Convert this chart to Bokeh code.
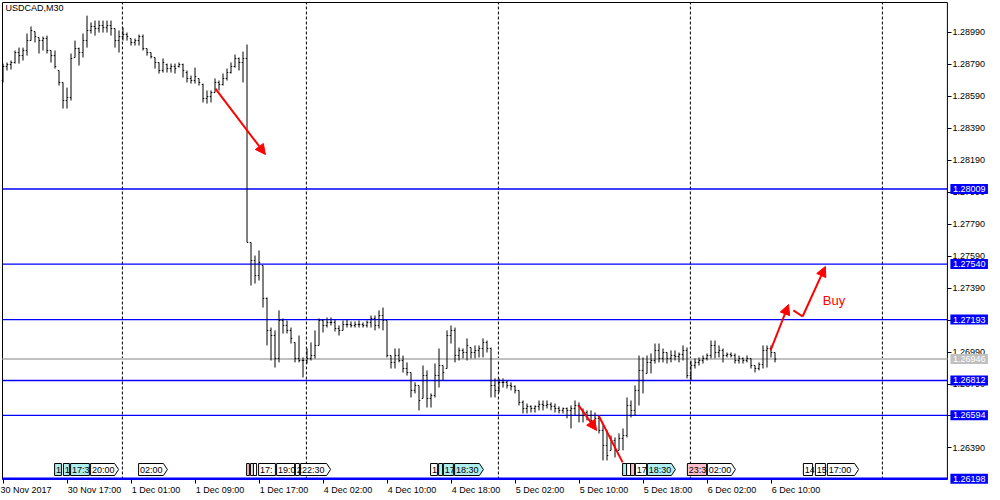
from bokeh.plotting import figure
from bokeh.models import (Range1d, FixedTicker, PrintfTickFormatter, Label,
                          Arrow, NormalHead, ColumnDataSource, AllLabels)
from bokeh.core.properties import value
from bokeh.embed import file_html
from bokeh.resources import INLINE

FONT = "Liberation Sans"
FS = 9  # px

symbol = "USDCAD,M30"

opens = [1.28687, 1.28775, 1.28787, 1.28800, 1.28862, 1.28843, 1.28875, 1.28937, 1.28993, 1.28956,
         1.28937, 1.28950, 1.28875, 1.28843, 1.28750, 1.28675, 1.28562, 1.28581, 1.28831, 1.28887,
         1.28862, 1.28937, 1.29000, 1.29025, 1.29012, 1.29031, 1.29018, 1.29031, 1.29012, 1.28937,
         1.28962, 1.28975, 1.28950, 1.28925, 1.28937, 1.28962, 1.28887, 1.28862, 1.28831, 1.28800,
         1.28750, 1.28787, 1.28762, 1.28775, 1.28775, 1.28787, 1.28737, 1.28700, 1.28687, 1.28700,
         1.28662, 1.28575, 1.28587, 1.28612, 1.28675, 1.28662, 1.28700, 1.28737, 1.28775, 1.28825,
         1.28800, 1.28825,
         1.27675, 1.27562, 1.27468, 1.27531, 1.27325, 1.27125, 1.27093, 1.26950, 1.27187, 1.27156,
         1.27125, 1.27050, 1.26950, 1.26937, 1.26937, 1.26950, 1.26968, 1.27031, 1.27187, 1.27156,
         1.27175, 1.27175, 1.27137, 1.27125, 1.27162, 1.27162, 1.27156, 1.27162, 1.27162, 1.27156,
         1.27175, 1.27200, 1.27156, 1.27218, 1.27187, 1.26968, 1.26925, 1.26968, 1.26937, 1.26887,
         1.26862, 1.26750, 1.26781, 1.26700, 1.26843, 1.26700, 1.26718, 1.26843, 1.26906, 1.26887,
         1.27093, 1.27125, 1.26968, 1.27000, 1.26987, 1.27018, 1.26987, 1.27000, 1.27012, 1.27050,
         1.27012, 1.26781, 1.26750,
         1.26800, 1.26800, 1.26781, 1.26775, 1.26750, 1.26675, 1.26637, 1.26650, 1.26637, 1.26650,
         1.26662, 1.26656, 1.26662, 1.26650, 1.26637, 1.26625, 1.26637, 1.26625, 1.26637, 1.26656,
         1.26593, 1.26612, 1.26593, 1.26562, 1.26575, 1.26500, 1.26406, 1.26375, 1.26437, 1.26375,
         1.26450, 1.26468, 1.26656, 1.26625, 1.26750, 1.26875, 1.26856, 1.26925, 1.26937, 1.27000,
         1.26950, 1.26987, 1.26950, 1.26968, 1.26962, 1.26975, 1.27000, 1.26843, 1.26906, 1.26925,
         1.26937, 1.26950, 1.26968, 1.27031, 1.26987, 1.27000, 1.26968, 1.26975, 1.26968, 1.26937,
         1.26950, 1.26937, 1.26950, 1.26906, 1.26887, 1.26912, 1.27000, 1.27012, 1.26987]

highs = [1.28793, 1.28800, 1.28812, 1.28875, 1.28893, 1.28893, 1.28981, 1.29025, 1.28993, 1.28956,
         1.28962, 1.28968, 1.28875, 1.28875, 1.28750, 1.28675, 1.28643, 1.28856, 1.28937, 1.28893,
         1.28981, 1.29093, 1.29050, 1.29062, 1.29062, 1.29062, 1.29062, 1.29062, 1.29012, 1.29000,
         1.29018, 1.28987, 1.28950, 1.28950, 1.28975, 1.28975, 1.28887, 1.28862, 1.28831, 1.28800,
         1.28825, 1.28793, 1.28793, 1.28793, 1.28800, 1.28793, 1.28750, 1.28718, 1.28768, 1.28700,
         1.28668, 1.28625, 1.28625, 1.28700, 1.28687, 1.28731, 1.28762, 1.28800, 1.28850, 1.28831,
         1.28868, 1.28912,
         1.27675, 1.27593, 1.27625, 1.27531, 1.27331, 1.27143, 1.27125, 1.27250, 1.27200, 1.27187,
         1.27143, 1.27050, 1.27093, 1.26956, 1.27012, 1.27050, 1.27125, 1.27200, 1.27193, 1.27206,
         1.27206, 1.27193, 1.27156, 1.27187, 1.27193, 1.27181, 1.27181, 1.27187, 1.27175, 1.27187,
         1.27218, 1.27218, 1.27250, 1.27268, 1.27187, 1.26968, 1.27012, 1.27012, 1.26968, 1.26925,
         1.26862, 1.26800, 1.26781, 1.26906, 1.26875, 1.26731, 1.26918, 1.27012, 1.26906, 1.27125,
         1.27156, 1.27143, 1.27018, 1.27012, 1.27075, 1.27018, 1.27031, 1.27031, 1.27075, 1.27062,
         1.27018, 1.26825, 1.26825,
         1.26825, 1.26812, 1.26800, 1.26781, 1.26750, 1.26687, 1.26668, 1.26656, 1.26656, 1.26687,
         1.26687, 1.26687, 1.26675, 1.26668, 1.26650, 1.26643, 1.26643, 1.26656, 1.26687, 1.26675,
         1.26637, 1.26625, 1.26625, 1.26612, 1.26593, 1.26531, 1.26500, 1.26468, 1.26456, 1.26481,
         1.26512, 1.26706, 1.26687, 1.26781, 1.26968, 1.26956, 1.26968, 1.26981, 1.27043, 1.27043,
         1.27012, 1.26987, 1.27000, 1.27000, 1.26987, 1.27031, 1.27018, 1.26937, 1.26950, 1.26956,
         1.26968, 1.26981, 1.27062, 1.27062, 1.27031, 1.27012, 1.26987, 1.26987, 1.26981, 1.26968,
         1.26956, 1.26968, 1.26950, 1.26906, 1.26925, 1.27031, 1.27031, 1.27031, 1.26987]

lows = [1.28675, 1.28750, 1.28756, 1.28793, 1.28793, 1.28812, 1.28843, 1.28937, 1.28925, 1.28856,
        1.28875, 1.28856, 1.28800, 1.28762, 1.28656, 1.28512, 1.28512, 1.28562, 1.28831, 1.28781,
        1.28831, 1.28893, 1.28981, 1.28968, 1.28987, 1.28987, 1.28987, 1.28968, 1.28893, 1.28862,
        1.28937, 1.28937, 1.28906, 1.28906, 1.28906, 1.28875, 1.28843, 1.28825, 1.28762, 1.28731,
        1.28737, 1.28737, 1.28737, 1.28731, 1.28768, 1.28706, 1.28675, 1.28668, 1.28668, 1.28656,
        1.28550, 1.28543, 1.28550, 1.28612, 1.28625, 1.28656, 1.28687, 1.28731, 1.28768, 1.28750,
        1.28675, 1.27675,
        1.27406, 1.27418, 1.27437, 1.27268, 1.27031, 1.26937, 1.26893, 1.26925, 1.27106, 1.27106,
        1.27043, 1.26925, 1.26925, 1.26831, 1.26918, 1.26937, 1.26950, 1.27031, 1.27112, 1.27143,
        1.27156, 1.27118, 1.27093, 1.27125, 1.27143, 1.27143, 1.27143, 1.27143, 1.27143, 1.27143,
        1.27143, 1.27125, 1.27137, 1.27125, 1.26956, 1.26887, 1.26887, 1.26925, 1.26862, 1.26843,
        1.26706, 1.26731, 1.26625, 1.26700, 1.26643, 1.26643, 1.26706, 1.26768, 1.26812, 1.26887,
        1.27043, 1.26925, 1.26937, 1.26950, 1.26937, 1.26950, 1.26950, 1.26956, 1.26956, 1.26987,
        1.26706, 1.26706, 1.26737,
        1.26768, 1.26762, 1.26750, 1.26731, 1.26656, 1.26606, 1.26606, 1.26612, 1.26612, 1.26625,
        1.26625, 1.26637, 1.26625, 1.26612, 1.26606, 1.26606, 1.26575, 1.26512, 1.26593, 1.26550,
        1.26550, 1.26562, 1.26550, 1.26518, 1.26481, 1.26312, 1.26312, 1.26375, 1.26331, 1.26375,
        1.26375, 1.26456, 1.26581, 1.26593, 1.26656, 1.26731, 1.26856, 1.26856, 1.26918, 1.26925,
        1.26925, 1.26918, 1.26925, 1.26937, 1.26925, 1.26937, 1.26825, 1.26812, 1.26887, 1.26906,
        1.26918, 1.26937, 1.26950, 1.26950, 1.26956, 1.26925, 1.26956, 1.26956, 1.26918, 1.26918,
        1.26918, 1.26925, 1.26887, 1.26862, 1.26875, 1.26887, 1.26893, 1.26956, 1.26925]

closes = [1.28775, 1.28787, 1.28800, 1.28862, 1.28843, 1.28875, 1.28937, 1.29000, 1.28962, 1.28937,
          1.28950, 1.28875, 1.28843, 1.28775, 1.28675, 1.28562, 1.28581, 1.28825, 1.28887, 1.28862,
          1.28937, 1.29000, 1.29025, 1.29012, 1.29031, 1.29018, 1.29031, 1.29012, 1.28937, 1.28962,
          1.28975, 1.28962, 1.28925, 1.28937, 1.28962, 1.28887, 1.28862, 1.28837, 1.28800, 1.28750,
          1.28800, 1.28762, 1.28775, 1.28762, 1.28787, 1.28750, 1.28700, 1.28687, 1.28712, 1.28675,
          1.28575, 1.28587, 1.28612, 1.28675, 1.28662, 1.28700, 1.28737, 1.28775, 1.28825, 1.28800,
          1.28825, 1.27675,
          1.27562, 1.27468, 1.27550, 1.27325, 1.27125, 1.27093, 1.26950, 1.27187, 1.27156, 1.27125,
          1.27075, 1.26950, 1.26937, 1.26937, 1.26950, 1.26968, 1.27031, 1.27187, 1.27156, 1.27175,
          1.27175, 1.27137, 1.27125, 1.27162, 1.27162, 1.27156, 1.27162, 1.27162, 1.27156, 1.27175,
          1.27200, 1.27156, 1.27218, 1.27187, 1.26968, 1.26925, 1.26968, 1.26937, 1.26887, 1.26862,
          1.26750, 1.26781, 1.26687, 1.26843, 1.26700, 1.26718, 1.26843, 1.26906, 1.26862, 1.27093,
          1.27125, 1.26968, 1.27000, 1.26987, 1.27031, 1.26987, 1.27000, 1.27012, 1.27050, 1.27012,
          1.26781, 1.26750, 1.26800,
          1.26800, 1.26781, 1.26775, 1.26750, 1.26675, 1.26637, 1.26650, 1.26637, 1.26650, 1.26662,
          1.26656, 1.26662, 1.26650, 1.26637, 1.26625, 1.26637, 1.26625, 1.26637, 1.26656, 1.26593,
          1.26612, 1.26593, 1.26562, 1.26575, 1.26500, 1.26406, 1.26343, 1.26437, 1.26375, 1.26450,
          1.26468, 1.26656, 1.26625, 1.26750, 1.26875, 1.26812, 1.26925, 1.26937, 1.27000, 1.26950,
          1.26987, 1.26950, 1.26968, 1.26962, 1.26975, 1.27000, 1.26843, 1.26906, 1.26925, 1.26937,
          1.26950, 1.26968, 1.27031, 1.26987, 1.27000, 1.26968, 1.26975, 1.26968, 1.26937, 1.26950,
          1.26937, 1.26950, 1.26906, 1.26887, 1.26912, 1.27000, 1.27012, 1.26987, 1.26946]

time_labels = ["30 Nov 2017", "30 Nov 17:00", "1 Dec 01:00", "1 Dec 09:00", "1 Dec 17:00",
               "4 Dec 02:00", "4 Dec 10:00", "4 Dec 18:00", "5 Dec 02:00", "5 Dec 10:00",
               "5 Dec 18:00", "6 Dec 02:00", "6 Dec 10:00"]
bars_per_label = 16

price_ticks = [1.26390, 1.26590, 1.26790, 1.26990, 1.27190, 1.27390, 1.27590,
               1.27790, 1.27990, 1.28190, 1.28390, 1.28590, 1.28790, 1.28990]

level_prices = [1.28009, 1.27540, 1.27193, 1.26812, 1.26594, 1.26198]
bid_price = 1.26946
day_start_bars = [30, 76, 124, 172, 220]

# calendar event markers (bar index span, text, colour kind, arrow shaped)
event_start = [12.9, 15.1, 16.9, 21.9, 33.9, 60.9, 61.9, 62.6, 63.9, 68.4, 73.1, 74.4,
               106.9, 108.9, 110.1, 112.9, 154.9, 155.9, 156.9, 158.1, 161.1, 171.1, 176.1,
               200.1, 203.1, 206.1]
event_end = [14.6, 16.6, 21.6, 28.9, 41.1, 61.6, 62.6, 63.4, 68.1, 72.9, 74.1, 81.9,
             108.6, 109.9, 112.6, 120.1, 155.9, 156.9, 157.9, 160.9, 168.1, 175.9, 183.1,
             202.4, 205.6, 213.9]
event_text = ["1", "1", "17:3", "20:00", "02:00", "", "", "", "17:", "19:0", "2", "22:30",
              "1", "", "17", "18:30", "", "", "", "17", "18:30", "23:3", "02:00",
              "14", "15", "17:00"]
event_kind = ["c", "c", "c", "w", "w", "p", "w", "w", "w", "w", "w", "w",
              "w", "c", "c", "c", "c", "w", "p", "w", "c", "p", "w",
              "w", "w", "w"]
event_arrow = [0, 0, 0, 1, 1, 0, 0, 0, 0, 0, 0, 1,
               0, 0, 0, 1, 0, 0, 0, 0, 1, 0, 1,
               0, 0, 1]
kind_color = {"c": "#AFEEEE", "w": "#FFFFFF", "p": "#FFC0CB"}

# hand-drawn red arrows (bar index, price)
arrow_heads = [((53.1, 1.28637), (65.6, 1.28225)),
               ((143.9, 1.26656), (148.4, 1.26500)),
               ((191.9, 1.27000), (196.4, 1.27287)),
               ((199.9, 1.27212), (205.6, 1.27525))]
plain_lines = [[(148.9, 1.26593), (154.9, 1.26300)],
               [(197.6, 1.27250), (199.9, 1.27212)]]
buy_text = ("Buy", 204.95, 1.27356)

# chart window (price-scale boundary at X1, frame of the bar area X0..X1 / Y0..Y1)
X0, X1 = -0.125, 236.1
Y0, Y1 = 1.26193, 1.29175
PX_X = 4.0                      # px per bar
PX_Y = 477 / (Y1 - Y0)          # px per price unit

# approximate glyph widths (em) of the sans font, used to left-align the time labels
EM = {" ": 0.278, ":": 0.278, ".": 0.278, "N": 0.722, "D": 0.722, "o": 0.556,
      "v": 0.5, "e": 0.556, "c": 0.5}
def text_w(s):
    return sum(EM.get(ch, 0.556) for ch in s) * FS
NBSP = "\u00a0"
def left_aligned(s, first=False):
    if first:
        return s
    n = int(round((text_w(s) + 2) / (0.278 * FS)))
    return NBSP * n + s

FW, FH = 998, 498
xr0 = X0 - 2 / PX_X
yr1 = Y1 + 2 / PX_Y
yr0 = yr1 - FH / PX_Y
p = figure(frame_width=FW, frame_height=FH,
           x_range=Range1d(xr0, xr0 + FW / PX_X), y_range=Range1d(yr0, yr1),
           output_backend="svg", toolbar_location=None,
           x_axis_location="below", y_axis_location="right",
           min_border_left=0, min_border_top=0, min_border_right=0, min_border_bottom=0)
p.xgrid.visible = False
p.ygrid.visible = False
p.outline_line_color = None
p.background_fill_color = "white"
p.border_fill_color = "white"

xa = p.xaxis[0]
xa.ticker = FixedTicker(ticks=[bars_per_label * k for k in range(len(time_labels))])
xa.major_label_overrides = {bars_per_label * k: left_aligned(lbl, k == 0)
                            for k, lbl in enumerate(time_labels)}
xa.major_label_policy = AllLabels()
xa.bounds = (X0, X1)
xa.fixed_location = Y0
ya = p.yaxis[0]
ya.ticker = FixedTicker(ticks=price_ticks)
ya.formatter = PrintfTickFormatter(format="%.5f")
ya.fixed_location = X1
ya.bounds = (Y0, Y1)
for ax in (xa, ya):
    ax.axis_line_color = None
    ax.major_tick_line_color = "black"
    ax.major_tick_out = 4
    ax.major_tick_in = 0
    ax.minor_tick_out = 0
    ax.minor_tick_in = 0
    ax.major_label_standoff = 1
    ax.major_label_text_font = FONT
    ax.major_label_text_font_size = "%dpx" % FS
    ax.major_label_text_color = "black"

# chart window border
p.segment(x0=[X0, X0, X0, X1], y0=[Y0, Y1, Y0, Y0], x1=[X1, X1, X0, X1], y1=[Y0, Y1, Y1, Y1],
          line_color="black", line_width=1)

# period separators, bid line and horizontal levels
p.segment(x0=[d - 0.15 for d in day_start_bars], x1=[d - 0.15 for d in day_start_bars],
          y0=Y0, y1=Y1, line_color="black", line_width=1, line_dash="3 2")
p.segment(x0=X0, x1=X1, y0=bid_price, y1=bid_price, line_color="#C0C0C0", line_width=2)
p.segment(x0=X0, x1=X1, y0=level_prices, y1=level_prices, line_color="#0000FF",
          line_width=[2.5 if lv == min(level_prices) else 1.3 for lv in level_prices])

# OHLC bars
idx = list(range(len(closes)))
src = ColumnDataSource(dict(x=idx, o=opens, h=highs, l=lows, c=closes,
                            xl=[i - 0.32 for i in idx], xr=[i + 0.32 for i in idx]))
p.segment(x0="x", y0="l", x1="x", y1="h", source=src, line_color="black", line_width=1)
p.segment(x0="xl", y0="o", x1="x", y1="o", source=src, line_color="black", line_width=1)
p.segment(x0="x", y0="c", x1="xr", y1="c", source=src, line_color="black", line_width=1)

# event markers at the bottom
ev_top, ev_bot = 1.26293, 1.26218
ev_mid = (ev_top + ev_bot) / 2
rect_l, rect_r, rect_c = [], [], []
pat_x, pat_y, pat_c = [], [], []
for s, e, k, a in zip(event_start, event_end, event_kind, event_arrow):
    if a:
        pat_x.append([s, e - 1.0, e, e - 1.0, s])
        pat_y.append([ev_top, ev_top, ev_mid, ev_bot, ev_bot])
        pat_c.append(kind_color[k])
    else:
        rect_l.append(s)
        rect_r.append(e)
        rect_c.append(kind_color[k])
p.quad(left=rect_l, right=rect_r, top=ev_top, bottom=ev_bot, fill_color=rect_c,
       line_color="black", line_width=1)
p.patches(xs=pat_x, ys=pat_y, fill_color=pat_c, line_color="black", line_width=1)
p.text(x=[s + 0.35 for s in event_start], y=[ev_mid] * len(event_start), text=event_text,
       text_font=value(FONT), text_font_size="%dpx" % FS, text_color="black",
       text_baseline="middle", text_align="left")

# red arrows
for (x0, y0), (x1, y1) in arrow_heads:
    p.add_layout(Arrow(end=NormalHead(size=10, fill_color="#FF0000", line_color="#FF0000"),
                       x_start=x0, y_start=y0, x_end=x1, y_end=y1,
                       line_color="#FF0000", line_width=2))
for pts in plain_lines:
    p.line([q[0] for q in pts], [q[1] for q in pts], line_color="#FF0000", line_width=2)
p.add_layout(Label(x=buy_text[1], y=buy_text[2], text=buy_text[0], text_color="#FF0000",
                   text_font=FONT, text_font_size="13px", text_baseline="top"))

# symbol caption
p.add_layout(Label(x=X0 + 0.75, y=Y1 - 0.00003, text=symbol, text_color="black",
                   text_font=FONT, text_font_size="%dpx" % FS, text_baseline="top"))

# price tags on the price scale
for lv in level_prices + [bid_price]:
    bg = "#C0C0C0" if lv == bid_price else "#0000FF"
    p.add_layout(Label(x=X1 + 0.75, y=lv, text=NBSP + ("%.5f" % lv) + NBSP, text_color="white",
                       text_font=FONT, text_font_size="%dpx" % FS, text_baseline="middle",
                       text_align="left", background_fill_color=bg))

open("out.html", "w").write(file_html(p, INLINE))
